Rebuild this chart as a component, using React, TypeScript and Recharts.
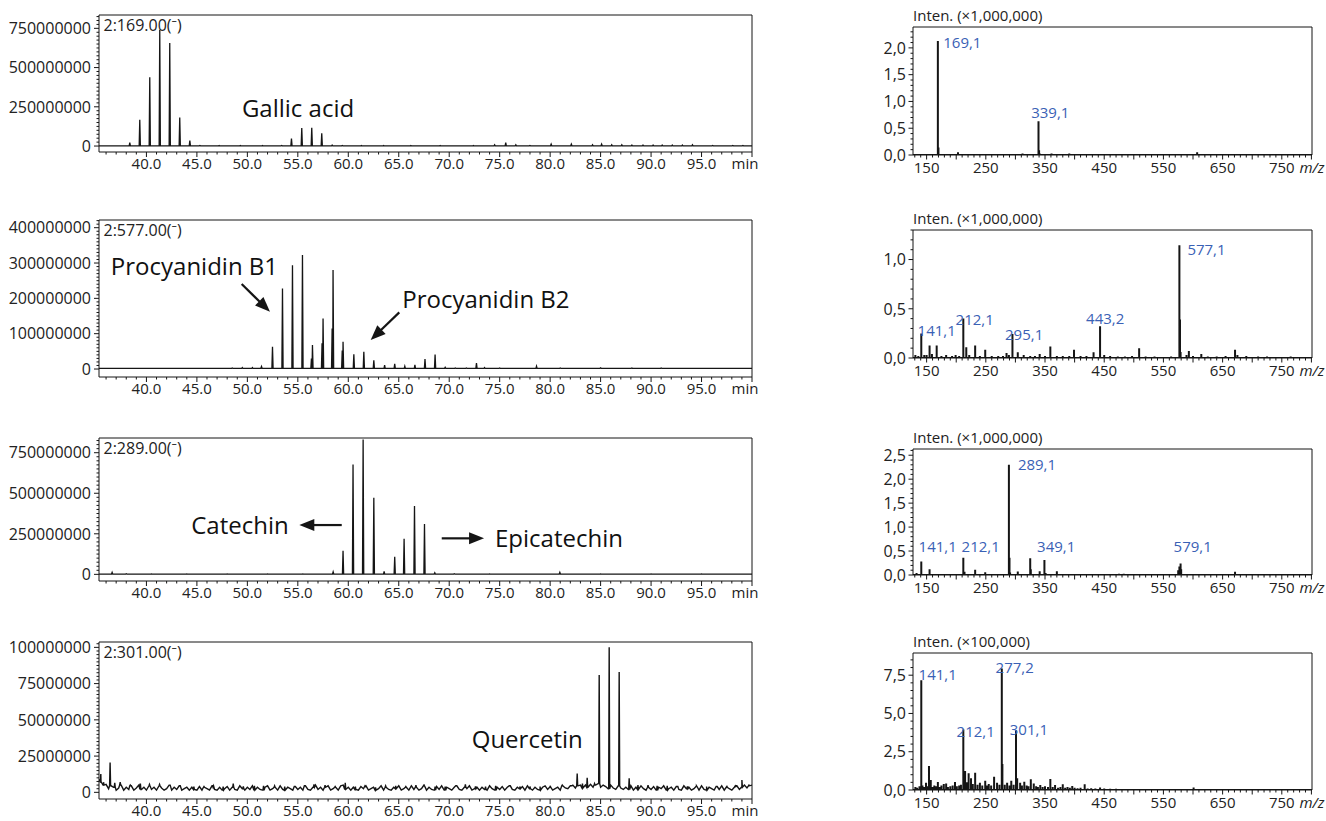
import React from 'react';
import { LineChart, Line, XAxis, YAxis, ReferenceArea, ReferenceDot } from 'recharts';

const FONT = "'Open Sans', 'Noto Sans', sans-serif";
const INK = '#151515';
const TEXT = '#222222';
const BLUE = '#3a61b5';

type Pair = [number, number];
type Pt = { x: number; y: number };

// ---------------- Chromatograms: retention time (min) vs intensity (millions of counts) ----------------
const channelLabels = ['2:169.00(\u207B)', '2:577.00(\u207B)', '2:289.00(\u207B)', '2:301.00(\u207B)'];
const rtMajorTicks = [40, 45, 50, 55, 60, 65, 70, 75, 80, 85, 90, 95];
const rtUnit = 'min';
const RT_MIN = 35.3;
const RT_MAX = 100;

const base169: Pair[] = [[35.3, 1.5], [100, 1.5]];
const peaks169: Pair[] = [
  [38.35, 21], [39.34, 167], [40.33, 438], [41.32, 741], [42.31, 656], [43.3, 182], [44.3, 34],
  [45.3, 4], [47.2, 3], [49.3, 3], [51.5, 3], [53.4, 4], [54.37, 47], [55.39, 115], [56.38, 117],
  [57.37, 81], [58.4, 6], [59.4, 4], [61.3, 3], [63.5, 3], [66.2, 3], [69.1, 3], [72.4, 3],
  [74.5, 8], [75.6, 22], [76.6, 8], [78.0, 4], [80.1, 12], [82.1, 12], [84.2, 8], [85.1, 12],
  [86.1, 8], [87.1, 8], [88.1, 6], [89.2, 6], [90.2, 6], [91.1, 6], [92.1, 6], [93.1, 6],
  [94.1, 8], [96.1, 4], [98.1, 4], [99.1, 4],
];

const base577: Pair[] = [[35.3, 2], [100, 2]];
const peaks577: Pair[] = [
  [48.5, 3], [49.5, 4], [50.5, 4], [51.4, 7], [52.49, 63], [53.48, 228], [54.47, 294], [55.46, 323],
  [56.35, 30], [56.45, 68], [57.4, 73], [57.5, 143], [58.4, 115], [58.49, 280], [59.4, 52], [59.48, 77],
  [60.55, 42], [61.54, 49], [62.53, 25], [63.6, 11], [64.6, 15], [65.6, 8], [66.6, 12], [67.6, 28],
  [68.6, 41], [69.6, 5], [70.6, 3], [71.7, 3], [72.7, 17], [73.5, 4], [75.0, 3], [78.65, 8],
  [81.0, 3], [85.0, 3.5], [88.1, 3], [91.0, 3],
];

const base289: Pair[] = [[35.3, 2], [100, 2]];
const peaks289: Pair[] = [
  [36.6, 12], [38.0, 4], [40.5, 3], [44.0, 3], [48.0, 3], [52.0, 3], [55.5, 3], [58.5, 15],
  [59.48, 146], [60.47, 677], [61.47, 832], [62.53, 473], [63.55, 19], [64.6, 108], [65.53, 219],
  [66.56, 421], [67.55, 310], [68.57, 10], [70.5, 4], [74.0, 3], [80.96, 12], [85.0, 3], [90.0, 3], [95.0, 3],
];

// noisy baseline of the m/z 301 trace, one reading every 0.25 min from 35.5 min
const noise301 = [
  7, 5, 5.5, 2.5, 4.5, 3.5, 1.5, 3, 5, 1.5, 3.5, 2, 4.5, 1.5, 3, 5, 2, 3.5, 1.5, 4.5,
  2, 3.5, 1.5, 4.5, 3, 1.5, 2.5, 5, 1.5, 3.5, 2, 4.5, 1.5, 2.5, 3.5, 1.5, 3.5, 2, 1.5, 4,
  1.5, 3.5, 2.5, 1.5, 4.5, 2, 1.5, 3.5, 1.5, 2.5, 4, 1.5, 3.5, 2, 1.5, 4.5, 2.5, 1.5, 3.5, 2,
  4.5, 1.5, 3.5, 2, 1.5, 3.5, 4.5, 1.5, 2.5, 3.5, 1.5, 4.5, 2, 1.5, 3.5, 2.5, 1.5, 4, 2, 3.5,
  1.5, 4.5, 2, 1.5, 3.5, 5, 2, 3.5, 1.5, 3.5, 4.5, 1.5, 2.5, 3.5, 1.5, 4.5, 5, 2, 3.5, 1.5,
  3.5, 2, 1.5, 4, 2.5, 4.5, 1.5, 2.5, 3.5, 1.5, 2.5, 4.5, 1.5, 3.5, 2, 1.5, 3.5, 2.5, 4.5, 1.5,
  2.5, 3.5, 1.5, 4.5, 2, 3.5, 1.5, 2.5, 4.5, 1.5, 3.5, 2, 1.5, 4, 2, 4.5, 1.5, 3.5, 2.5, 1.5,
  3.5, 4.5, 2, 1.5, 3.5, 2.5, 4.5, 1.5, 2.5, 3.5, 1.5, 3.5, 2, 1.5, 4.5, 2.5, 1.5, 3.5, 2, 4,
  1.5, 3.5, 4.5, 2, 1.5, 3.5, 2.5, 4, 1.5, 4.5, 2.5, 1.5, 3.5, 2, 1.5, 3.5, 4.5, 2, 3.5, 1.5,
  2.5, 3.5, 1.5, 4.5, 3, 2.5, 4.5, 5, 3, 4.5, 5, 3, 5, 3.5, 5.5, 3.5, 5, 6, 3.5, 5,
  4, 2.5, 5, 3, 2, 4.5, 3, 2, 3.5, 2, 4.5, 1.5, 3.5, 2, 4.5, 2.5, 1.5, 3.5, 2, 4,
  1.5, 3.5, 2.5, 4.5, 1.5, 2.5, 3.5, 1.5, 4, 2, 1.5, 4.5, 2.5, 3.5, 1.5, 2.5, 4, 1.5, 4.5, 2,
  1.5, 3.5, 2.5, 1.5, 4, 2, 4.5, 1.5, 3.5, 2.5, 1.5, 3.5, 4.5, 2, 3.5, 5, 3, 4.5, 5,
];
const peaks301: Pair[] = [
  [35.48, 12.7], [35.75, 7], [36.4, 20.5], [36.86, 6.5], [37.4, 7], [38.4, 5], [39.4, 6], [40.3, 5.5],
  [41.3, 5.5], [42.3, 5], [43.3, 4.5], [44.7, 4], [45.7, 4], [46.6, 3.5], [47.6, 4], [48.6, 6], [49.6, 4],
  [50.7, 4.5], [51.6, 4.5], [52.7, 4.5], [53.7, 4], [54.7, 4], [55.7, 4.5], [56.6, 5.5], [57.7, 5],
  [58.7, 4], [59.7, 6.5], [60.7, 4], [61.7, 4], [62.7, 3.5], [63.7, 4.5], [64.7, 4.5], [65.7, 4],
  [66.7, 5], [67.5, 5.5], [68.6, 4], [69.6, 4], [70.7, 4.5], [71.6, 5.5], [72.6, 4], [73.6, 4],
  [74.6, 4.5], [76.0, 4.5], [77.0, 4], [78.0, 4], [79.0, 4], [80.0, 4.5], [81.2, 5], [82.1, 4.5],
  [82.68, 13], [83.2, 6], [83.67, 10], [84.4, 6], [84.86, 81], [85.85, 100], [86.84, 83], [87.83, 9.7],
  [88.7, 5], [89.7, 5], [90.6, 4.5], [91.6, 4.5], [92.6, 4], [93.6, 4], [94.5, 4.5], [95.5, 4],
  [96.5, 4], [97.5, 4.5], [98.4, 4], [99.0, 8.5], [99.7, 5],
];

const notes169 = [{ text: 'Gallic acid', t: 55.02, v: 240 }];
const notes577 = [{ text: 'Procyanidin B1', t: 44.76, v: 290 }, { text: 'Procyanidin B2', t: 73.64, v: 198 }];
const notes289 = [{ text: 'Catechin', t: 49.27, v: 304 }, { text: 'Epicatechin', t: 74.54, v: 222 }];
const notes301 = [{ text: 'Quercetin', t: 77.73, v: 36.8 }];
const arrowTips577: Pair[] = [[52.24, 162], [62.22, 82]];
const arrowTips289: Pair[] = [[55.15, 304], [73.45, 222]];

// ---------------- Mass spectra: m/z vs intensity ----------------
const intenLabels = ['Inten. (\u00D71,000,000)', 'Inten. (\u00D71,000,000)', 'Inten. (\u00D71,000,000)', 'Inten. (\u00D7100,000)'];
const mzLabelTicks = [150, 250, 350, 450, 550, 650, 750];
const mzUnit = 'm/z';
const MZ_MIN = 127;
const MZ_MAX = 801;

const ms169: Pair[] = [
  [131, 0.02], [141, 0.02], [152, 0.01], [169, 2.13], [170, 0.14], [171, 0.02], [185, 0.02], [196, 0.02],
  [203, 0.05], [215, 0.02], [225, 0.015], [241, 0.02], [255, 0.015], [270, 0.02], [283, 0.015], [297, 0.015],
  [312, 0.03], [325, 0.02], [339, 0.63], [340, 0.09], [341, 0.03], [355, 0.02], [361, 0.03], [375, 0.015],
  [391, 0.03], [410, 0.015], [430, 0.01], [455, 0.015], [478, 0.01], [500, 0.01], [525, 0.01], [552, 0.01],
  [578, 0.015], [607, 0.05], [620, 0.01], [650, 0.01], [690, 0.01], [720, 0.01], [760, 0.01], [790, 0.01],
];
const ms577: Pair[] = [
  [131, 0.03], [136, 0.02], [141, 0.25], [146, 0.03], [150, 0.03], [155, 0.126], [159, 0.04], [167, 0.126],
  [175, 0.02], [183, 0.03], [193, 0.02], [199, 0.03], [205, 0.02], [212, 0.40], [217, 0.11], [222, 0.03],
  [232, 0.126], [240, 0.02], [249, 0.085], [260, 0.02], [271, 0.02], [279, 0.02], [285, 0.05], [289, 0.03],
  [295, 0.245], [304, 0.058], [314, 0.03], [325, 0.02], [333, 0.02], [341, 0.04], [350, 0.02], [359, 0.116],
  [370, 0.02], [380, 0.02], [391, 0.02], [399, 0.085], [410, 0.02], [420, 0.02], [432, 0.058], [443, 0.323],
  [450, 0.03], [460, 0.02], [473, 0.015], [485, 0.015], [497, 0.02], [509, 0.10], [520, 0.015], [535, 0.015],
  [550, 0.01], [563, 0.015], [577, 1.146], [578, 0.39], [579, 0.06], [589, 0.03], [593, 0.07], [600, 0.02],
  [614, 0.04], [625, 0.015], [640, 0.015], [655, 0.02], [671, 0.085], [675, 0.03], [690, 0.02], [710, 0.015],
  [725, 0.015], [745, 0.01], [765, 0.015], [785, 0.01],
];
const ms289: Pair[] = [
  [133, 0.04], [141, 0.28], [146, 0.02], [155, 0.12], [163, 0.02], [175, 0.015], [187, 0.02], [197, 0.02],
  [205, 0.015], [212, 0.36], [214, 0.07], [221, 0.02], [232, 0.11], [241, 0.015], [249, 0.055], [260, 0.015],
  [270, 0.015], [281, 0.02], [289, 2.30], [290, 0.36], [291, 0.05], [304, 0.075], [313, 0.02], [325, 0.35],
  [326, 0.12], [333, 0.02], [341, 0.08], [349, 0.315], [351, 0.04], [361, 0.02], [370, 0.08], [380, 0.02],
  [390, 0.02], [400, 0.02], [411, 0.015], [423, 0.015], [435, 0.015], [447, 0.015], [461, 0.02], [468, 0.02],
  [475, 0.025], [483, 0.025], [490, 0.02], [500, 0.015], [512, 0.01], [530, 0.01], [548, 0.01], [563, 0.01],
  [575, 0.10], [577, 0.18], [579, 0.24], [580, 0.12], [593, 0.015], [610, 0.01], [630, 0.01], [650, 0.01],
  [671, 0.07], [690, 0.01], [710, 0.01], [735, 0.01], [760, 0.01], [785, 0.01],
];
const ms301: Pair[] = [
  [131, 0.2], [134, 0.15], [138, 0.25], [141, 7.17], [143, 0.3], [146, 0.2], [149, 0.48], [152, 0.25],
  [154, 1.57], [157, 0.65], [160, 0.2], [163, 0.3], [166, 0.25], [169, 0.52], [172, 0.2], [175, 0.3],
  [179, 0.39], [183, 0.43], [186, 0.2], [190, 0.25], [194, 0.3], [198, 0.52], [201, 0.25], [205, 0.3],
  [208, 0.35], [212, 3.96], [215, 1.24], [218, 0.5], [221, 1.09], [225, 0.76], [228, 0.4], [232, 1.13],
  [236, 0.35], [240, 0.48], [244, 0.3], [249, 0.61], [252, 0.3], [255, 0.39], [259, 0.3], [264, 0.87],
  [269, 0.48], [273, 0.35], [277, 7.93], [278, 1.7], [282, 0.35], [286, 0.48], [290, 0.3], [293, 0.61],
  [297, 0.35], [301, 3.91], [303, 0.76], [308, 0.48], [311, 0.3], [315, 0.54], [319, 0.3], [322, 0.25],
  [326, 0.7], [331, 0.43], [335, 0.25], [338, 0.2], [342, 0.33], [346, 0.2], [350, 0.25], [355, 0.2],
  [359, 0.72], [363, 0.2], [367, 0.33], [372, 0.15], [376, 0.2], [380, 0.37], [384, 0.15], [388, 0.2],
  [392, 0.15], [396, 0.26], [400, 0.15], [405, 0.12], [410, 0.15], [417, 0.37], [422, 0.1], [428, 0.12],
  [435, 0.1], [443, 0.17], [450, 0.1], [460, 0.08], [470, 0.08], [485, 0.06], [500, 0.06], [520, 0.05],
  [540, 0.05], [560, 0.05], [580, 0.05], [601, 0.17], [620, 0.05], [640, 0.04], [660, 0.04], [680, 0.04],
  [700, 0.04], [720, 0.04], [740, 0.04], [760, 0.04], [780, 0.04], [795, 0.04],
];

const msLabels169 = [{ mz: 169, text: '169,1' }, { mz: 339, text: '339,1' }];
const msLabels577 = [
  { mz: 141, text: '141,1' }, { mz: 212, text: '212,1' }, { mz: 295, text: '295,1' },
  { mz: 443, text: '443,2' }, { mz: 577, text: '577,1' },
];
const msLabels289 = [
  { mz: 141, text: '141,1' }, { mz: 212, text: '212,1' }, { mz: 289, text: '289,1' },
  { mz: 349, text: '349,1' }, { mz: 579, text: '579,1' },
];
const msLabels301 = [
  { mz: 141, text: '141,1' }, { mz: 212, text: '212,1' }, { mz: 277, text: '277,2' }, { mz: 301, text: '301,1' },
];

// ---------------- builders ----------------
function nearestBase(base: Pair[], t: number) {
  let best = base[0];
  for (const b of base) if (Math.abs(b[0] - t) < Math.abs(best[0] - t)) best = b;
  return best[1];
}

function buildTrace(base: Pair[], peaks: Pair[], hw = 0.06): Pt[] {
  const pts: Pt[] = base.map(([x, y]) => ({ x, y }));
  peaks.forEach(([t, h]) => {
    const b = nearestBase(base, t);
    pts.push({ x: t - hw, y: b }, { x: t, y: h }, { x: t + hw, y: b });
  });
  return pts.sort((a, b) => a.x - b.x);
}

function buildSticks(sticks: Pair[]): Pt[] {
  const pts: Pt[] = [{ x: MZ_MIN, y: 0 }];
  [...sticks].sort((a, b) => a[0] - b[0]).forEach(([m, h]) => {
    pts.push({ x: m, y: 0 }, { x: m, y: h }, { x: m, y: 0 });
  });
  pts.push({ x: MZ_MAX, y: 0 });
  return pts;
}

const base301: Pair[] = [[35.3, 9] as Pair].concat(noise301.map((v, i) => [35.5 + i * 0.25, v] as Pair));

// ---------------- layout / style ----------------
const LM = { top: 6, right: 8, bottom: 0, left: 0 };
const L_YW = 99;
const L_XH = 30;
const L_W = 760;

const leftPanels = [
  { top: 15, height: 137, yMin: -38, yMax: 835, minor: 25, major: 250, data: buildTrace(base169, peaks169), channel: channelLabels[0], notes: notes169, anchors: ['middle'], arrows: [] as Pair[], tails: [] as Pair[], lw: 1.3 },
  { top: 220, height: 157, yMin: -22.6, yMax: 421.8, minor: 10, major: 100, data: buildTrace(base577, peaks577), channel: channelLabels[1], notes: notes577, anchors: ['middle', 'middle'], arrows: arrowTips577, tails: [[-28.3, -27.7], [28.6, -27.7]] as Pair[], lw: 1.3 },
  { top: 438, height: 143, yMin: -41, yMax: 840.7, minor: 25, major: 250, data: buildTrace(base289, peaks289), channel: channelLabels[2], notes: notes289, anchors: ['middle', 'start'], arrows: arrowTips289, tails: [[42.4, 0], [-42.3, 0]] as Pair[], lw: 1.3 },
  { top: 642, height: 157, yMin: -4.6, yMax: 103.7, minor: 2.5, major: 25, data: buildTrace(base301, peaks301, 0.05), channel: channelLabels[3], notes: notes301, anchors: ['middle'], arrows: [] as Pair[], tails: [] as Pair[], lw: 1.4 },
];

const RM = { top: 24, right: 14, bottom: 0, left: 0 };
const R_YW = 53;
const R_XH = 30;
const R_W = 466;
const R_LEFT = 860;

const rightPanels = [
  { top: 27, height: 128, yMax: 2.39, minor: 0.1, major: 0.5, data: buildSticks(ms169), sticks: ms169, header: intenLabels[0], labels: msLabels169, offs: [[5.4, 1.8], [-7.3, -8.3]] },
  { top: 230, height: 128, yMax: 1.3, minor: 0.1, major: 0.5, data: buildSticks(ms577), sticks: ms577, header: intenLabels[1], labels: msLabels577, offs: [[-3.7, -2.7], [-7.7, 1.4], [-7.4, 0.4], [-14, -7.9], [8, 4.8]] },
  { top: 449, height: 126, yMax: 2.63, minor: 0.1, major: 0.5, data: buildSticks(ms289), sticks: ms289, header: intenLabels[2], labels: msLabels289, offs: [[-2.7, -14.9], [-1.7, -11.1], [9, 0.2], [-7.3, -13.2], [-7, -16.8]] },
  { top: 653, height: 137, yMax: 8.95, minor: 0.5, major: 2.5, data: buildSticks(ms301), sticks: ms301, header: intenLabels[3], labels: msLabels301, offs: [[-2.7, -5.2], [-6.7, 2.3], [-6.2, -0.9], [-6.2, -0.8]] },
];

const rtTicks: number[] = [];
for (let m = 36; m <= RT_MAX; m++) rtTicks.push(m);
const mzTicks: number[] = [];
for (let m = 130; m <= 800; m += 10) mzTicks.push(m);
mzTicks.push(MZ_MAX);

function isMult(v: number, step: number) {
  const r = v / step;
  return Math.abs(r - Math.round(r)) < 1e-6;
}

function stepTicks(max: number, step: number) {
  const out: number[] = [];
  for (let i = 0; i * step <= max + 1e-9; i++) out.push(Math.round(i * step * 1000) / 1000);
  return out;
}

const txt = (size: number, fill = TEXT) => ({ fontSize: size, fontFamily: FONT, fill });

function RtTick(props: any) {
  const { x, y, payload } = props;
  const v = payload.value;
  const isEnd = Math.abs(v - RT_MAX) < 1e-6;
  const major = isEnd || rtMajorTicks.indexOf(v) >= 0;
  return (
    <g>
      <line x1={x} x2={x} y1={y} y2={y + (major ? 5 : 2.5)} stroke={INK} strokeWidth={1} />
      {major && (
        <text x={isEnd ? x - 7 : x} y={y + 17} textAnchor="middle" {...txt(15)}>
          {isEnd ? rtUnit : v.toFixed(1)}
        </text>
      )}
    </g>
  );
}

function MzTick(props: any) {
  const { x, y, payload } = props;
  const v = payload.value;
  if (v === MZ_MAX) {
    return (
      <text x={x} y={y + 18} textAnchor="middle" fontStyle="italic" {...txt(15)}>
        {mzUnit}
      </text>
    );
  }
  const major = v % 50 === 0;
  const labeled = mzLabelTicks.indexOf(v) >= 0;
  return (
    <g>
      <line x1={x} x2={x} y1={y} y2={y + (major ? 4.5 : 2.5)} stroke={INK} strokeWidth={1} />
      {labeled && (
        <text x={x} y={y + 18} textAnchor="middle" {...txt(15)}>
          {v}
        </text>
      )}
    </g>
  );
}

function Arrow({ cx, cy, tail }: { cx: number; cy: number; tail: Pair }) {
  const [tdx, tdy] = tail;
  const len = Math.hypot(tdx, tdy);
  const ux = -tdx / len;
  const uy = -tdy / len;
  const headLen = 15;
  const hw = 6;
  const bx = cx - ux * headLen;
  const by = cy - uy * headLen;
  const px = -uy;
  const py = ux;
  return (
    <g>
      <line x1={cx + tdx} y1={cy + tdy} x2={bx + ux * 1} y2={by + uy * 1} stroke={INK} strokeWidth={2.2} />
      <polygon points={`${cx},${cy} ${bx + px * hw},${by + py * hw} ${bx - px * hw},${by - py * hw}`} fill={INK} />
    </g>
  );
}

function LeftPanel({ p }: { p: (typeof leftPanels)[number] }) {
  const yTicks = stepTicks(p.yMax, p.minor);
  const YT = (props: any) => {
    const { x, y, payload } = props;
    const v = payload.value;
    const isMajor = isMult(v, p.major);
    return (
      <g>
        <line x1={x - (isMajor ? 5 : 2.5)} x2={x} y1={y} y2={y} stroke={INK} strokeWidth={1} />
        {isMajor && (
          <text x={x - 8} y={y} dy="0.36em" textAnchor="end" {...txt(16)}>
            {String(Math.round(v * 1e6))}
          </text>
        )}
      </g>
    );
  };
  const h = LM.top + p.height + L_XH;
  return (
    <div style={{ position: 'absolute', left: 0, top: p.top - LM.top }}>
      <LineChart width={L_W} height={h} data={p.data} margin={LM}>
        <XAxis
          dataKey="x"
          type="number"
          domain={[RT_MIN, RT_MAX]}
          allowDataOverflow
          ticks={rtTicks}
          interval={0}
          tick={RtTick}
          tickLine={false}
          axisLine={false}
          tickSize={0}
          tickMargin={0}
          height={L_XH}
        />
        <YAxis
          type="number"
          domain={[p.yMin, p.yMax]}
          allowDataOverflow
          ticks={yTicks}
          interval={0}
          tick={YT}
          tickLine={false}
          axisLine={false}
          tickSize={0}
          tickMargin={0}
          width={L_YW}
        />
        <ReferenceArea x1={RT_MIN} x2={RT_MAX} y1={p.yMin} y2={p.yMax} fill="none" stroke={INK} strokeWidth={1} ifOverflow="visible" />
        <Line type="linear" dataKey="y" stroke={INK} strokeWidth={p.lw} dot={false} activeDot={false} isAnimationActive={false} />
        <ReferenceDot
          x={RT_MIN}
          y={p.yMax}
          r={0}
          ifOverflow="visible"
          shape={(s: any) => (
            <text x={s.cx + 4.5} y={s.cy + 10.5} dy="0.36em" textAnchor="start" {...txt(16)}>
              {p.channel}
            </text>
          )}
        />
        {p.notes.map((n, i) => (
          <ReferenceDot
            key={'n' + i}
            x={n.t}
            y={n.v}
            r={0}
            ifOverflow="visible"
            shape={(s: any) => (
              <text x={s.cx} y={s.cy} dy="0.36em" textAnchor={p.anchors[i]} {...txt(24, '#111')}>
                {n.text}
              </text>
            )}
          />
        ))}
        {p.arrows.map((a, i) => (
          <ReferenceDot
            key={'a' + i}
            x={a[0]}
            y={a[1]}
            r={0}
            ifOverflow="visible"
            shape={(s: any) => <Arrow cx={s.cx} cy={s.cy} tail={p.tails[i]} />}
          />
        ))}
      </LineChart>
    </div>
  );
}

function RightPanel({ p }: { p: (typeof rightPanels)[number] }) {
  const yTicks = stepTicks(p.yMax, p.minor);
  const YT = (props: any) => {
    const { x, y, payload } = props;
    const v = payload.value;
    const isMajor = isMult(v, p.major);
    return (
      <g>
        <line x1={x - (isMajor ? 4.5 : 2.5)} x2={x} y1={y} y2={y} stroke={INK} strokeWidth={1} />
        {isMajor && (
          <text x={x - 7} y={y} dy="0.36em" textAnchor="end" {...txt(16)}>
            {v.toFixed(1).replace('.', ',')}
          </text>
        )}
      </g>
    );
  };
  const h = RM.top + p.height + R_XH;
  const heightOf = (mz: number) => {
    const s = p.sticks.find((q) => q[0] === mz);
    return s ? s[1] : 0;
  };
  return (
    <div style={{ position: 'absolute', left: R_LEFT, top: p.top - RM.top }}>
      <LineChart width={R_W} height={h} data={p.data} margin={RM}>
        <XAxis
          dataKey="x"
          type="number"
          domain={[MZ_MIN, MZ_MAX]}
          allowDataOverflow
          ticks={mzTicks}
          interval={0}
          tick={MzTick}
          tickLine={false}
          axisLine={false}
          tickSize={0}
          tickMargin={0}
          height={R_XH}
        />
        <YAxis
          type="number"
          domain={[0, p.yMax]}
          allowDataOverflow
          ticks={yTicks}
          interval={0}
          tick={YT}
          tickLine={false}
          axisLine={false}
          tickSize={0}
          tickMargin={0}
          width={R_YW}
        />
        <ReferenceArea x1={MZ_MIN} x2={MZ_MAX} y1={0} y2={p.yMax} fill="none" stroke={INK} strokeWidth={1} ifOverflow="visible" />
        <Line type="linear" dataKey="y" stroke={INK} strokeWidth={2} dot={false} activeDot={false} isAnimationActive={false} />
        <ReferenceDot
          x={MZ_MIN}
          y={p.yMax}
          r={0}
          ifOverflow="visible"
          shape={(s: any) => (
            <text x={s.cx} y={s.cy - 11} dy="0.36em" textAnchor="start" {...txt(15)}>
              {p.header}
            </text>
          )}
        />
        {p.labels.map((l, i) => (
          <ReferenceDot
            key={'l' + i}
            x={l.mz}
            y={heightOf(l.mz)}
            r={0}
            ifOverflow="visible"
            shape={(s: any) => (
              <text x={s.cx + p.offs[i][0]} y={s.cy + p.offs[i][1]} dy="0.36em" textAnchor="start" {...txt(15, BLUE)}>
                {l.text}
              </text>
            )}
          />
        ))}
      </LineChart>
    </div>
  );
}

export default function App() {
  return (
    <div style={{ position: 'absolute', left: 0, top: 0, width: 1326, height: 821, background: '#ffffff', overflow: 'hidden' }}>
      {leftPanels.map((p, i) => (
        <LeftPanel key={'L' + i} p={p} />
      ))}
      {rightPanels.map((p, i) => (
        <RightPanel key={'R' + i} p={p} />
      ))}
    </div>
  );
}
